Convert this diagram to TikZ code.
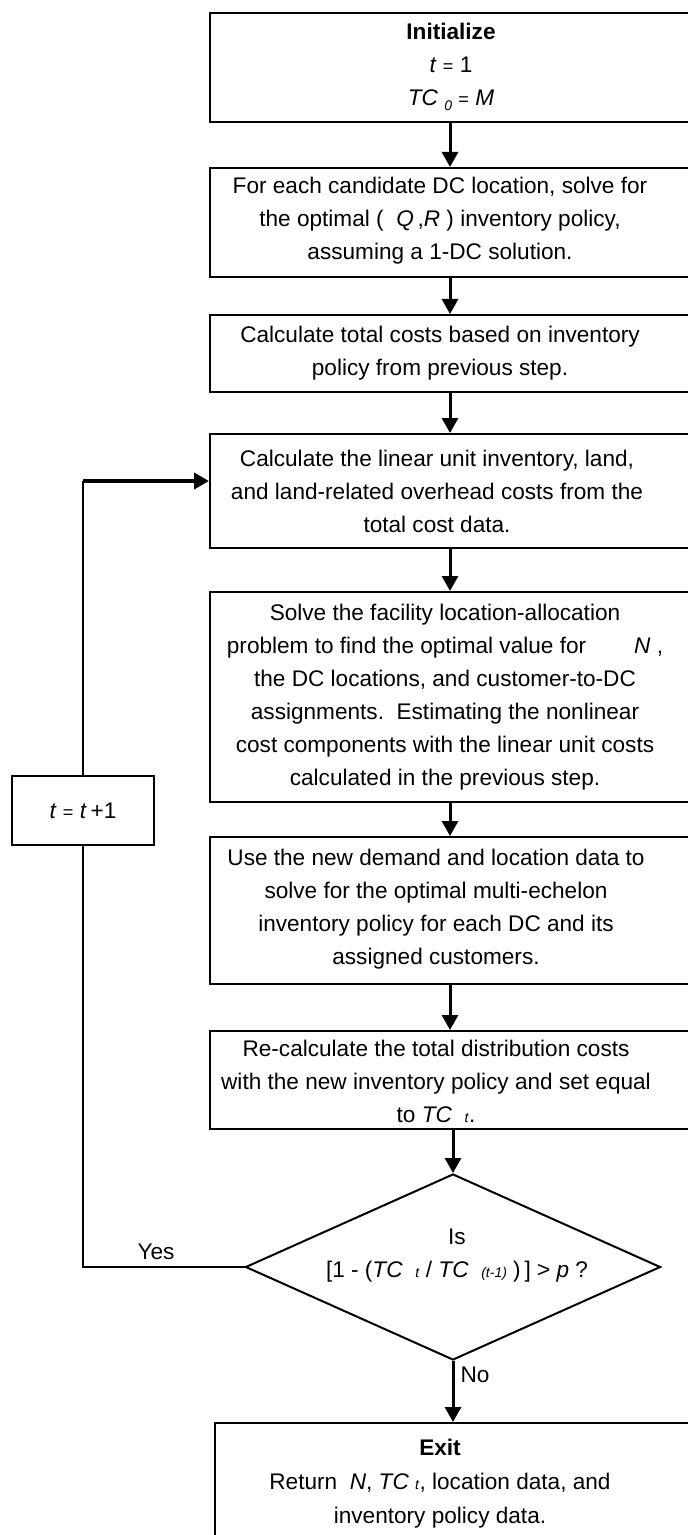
\documentclass[tikz,border=0pt]{standalone}
\usepackage{fontspec}
\setmainfont{Liberation Sans}
\usetikzlibrary{arrows.meta,shapes.geometric}
\begin{document}
\begin{tikzpicture}[x=0.5pt,y=-0.5pt,
  txt/.style={font=\fontsize{11.3}{16.5}\selectfont,align=center,inner sep=0pt},
  frame/.style={draw,line width=1pt,rectangle,inner sep=0pt,minimum width=240pt},
  tip/.style={-{Triangle[width=8pt,length=7.5pt]}},
  flow/.style={line width=1.5pt,tip},
  loopline/.style={line width=1pt},
  lbl/.style={font=\fontsize{11.3}{13}\selectfont,inner sep=0pt}]
\useasboundingbox (0,0) rectangle (688,1535);
\clip (0,0) rectangle (688,1535);

% process boxes (their right sides run past the page edge)
\node[frame,minimum height=54.5pt] (b1) at (450,67.5) {};
\node[txt] (b1t) at (451,67)
  {\textbf{Initialize}\\ \textit{t} {\small =} 1\\
   \textit{TC}\ \raisebox{-.4ex}{\scriptsize\textit{0}}\ {\small =}\ \textit{M}};

\node[frame,minimum height=54.5pt] (b2) at (450,222.5) {};
\node[txt] (b2t) at (440,221)
  {For each candidate DC location, solve for\\
   the optimal (\ \ \textit{Q}\,,\textit{R} ) inventory policy,\\
   assuming a 1-DC solution.};

\node[frame,minimum height=38.5pt] (b3) at (450,353.5) {};
\node[txt] (b3t) at (440,353.5)
  {Calculate total costs based on inventory\\ policy from previous step.};

\node[frame,minimum height=57pt] (b4) at (450,491) {};
\node[txt] (b4t) at (437,491)
  {Calculate the linear unit inventory, land,\\
   and land-related overhead costs from the\\ total cost data.};

\node[frame,minimum height=105pt] (b5) at (450,697) {};
\node[txt] (b5t) at (445,697)
  {Solve the facility location-allocation\\
   problem to find the optimal value for\hspace{24pt}\textit{N} ,\\
   the DC locations, and customer-to-DC\\
   assignments.\ \ Estimating the nonlinear\\
   cost components with the linear unit costs\\
   calculated in the previous step.};

\node[frame,minimum height=73.5pt] (b6) at (450,910.5) {};
\node[txt] (b6t) at (436,909)
  {Use the new demand and location data to\\
   solve for the optimal multi-echelon\\
   inventory policy for each DC and its\\ assigned customers.};

\node[frame,minimum height=49pt] (b7) at (450,1080) {};
\node[txt] (b7t) at (436,1081)
  {Re-calculate the total distribution costs\\
   with the new inventory policy and set equal\\
   to \textit{TC}\ \ {\scriptsize\textit{t}}.};

% decision
\node[draw,line width=1pt,diamond,minimum width=207.5pt,minimum height=93pt,inner sep=0pt] (dia) at (453,1267) {};
\node[txt] (diat) at (457,1256)
  {Is\\ {[}1 - (\textit{TC}\ \ {\scriptsize\textit{t}}\ / \textit{TC}\ \ {\scriptsize\textit{(t-1)}}\ )\,] > \textit{p} ?};

% exit box (runs past the page bottom)
\node[frame,minimum height=70pt] (b8) at (455,1493) {};
\node[txt,font=\fontsize{11.3}{17}\selectfont] (b8t) at (440,1484)
  {\textbf{Exit}\\
   Return\ \ \textit{N}, \textit{TC}\ {\scriptsize\textit{t}}, location data, and\\
   inventory policy data.};

% counter update
\node[frame,txt,minimum width=71pt,minimum height=34.5pt] (tb) at (83,810.5)
  {\textit{t} {\small =} \textit{t}\,+1};

% main flow
\draw[flow] (b1) -- (b2);
\draw[flow] (b2) -- (b3);
\draw[flow] (b3) -- (b4);
\draw[flow] (b4) -- (b5);
\draw[flow] (b5) -- (b6);
\draw[flow] (b6) -- (b7);
\draw[flow] (dia.north |- b7.south) -- (dia.north);
\draw[flow] (dia.south) -- (dia.south |- b8.north);

% feedback loop
\coordinate (corner) at (83,481);
\draw[loopline] (dia.west) -| (tb.south);
\draw[loopline] (tb.north) -- (corner);
\draw[line width=2pt,tip] (corner) -- (corner -| b4.west);

% branch labels
\node[lbl] (yes) at (156,1252) {Yes};
\node[lbl] (no) at (475,1375) {No};
\end{tikzpicture}
\end{document}
